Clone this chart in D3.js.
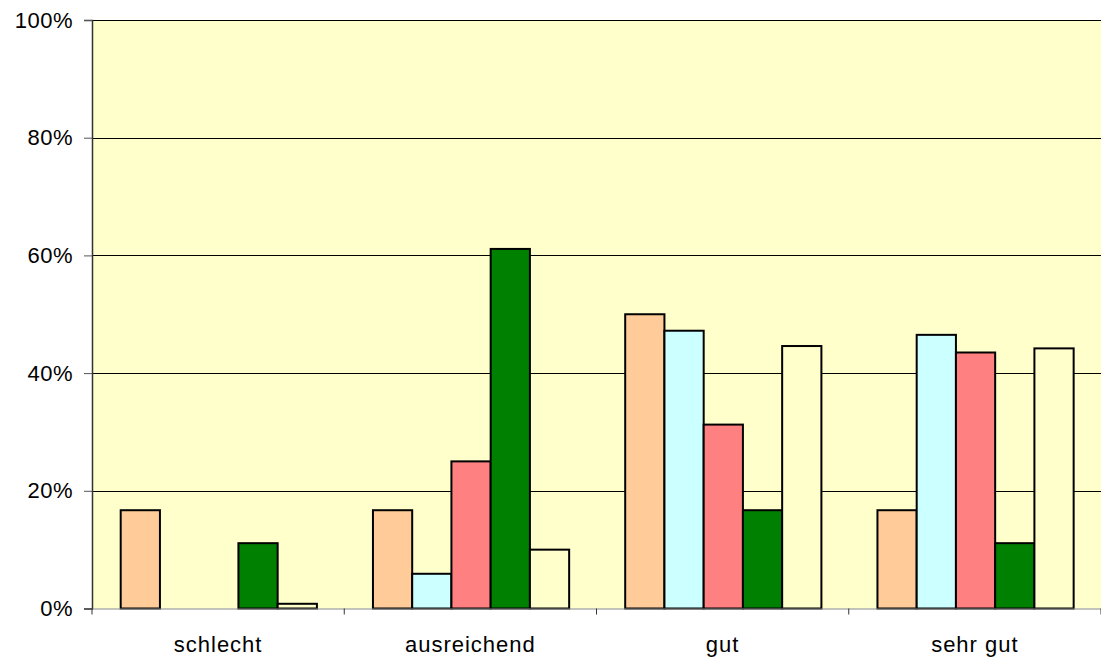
<!DOCTYPE html>
<html><head><meta charset="utf-8">
<script src="https://cdn.jsdelivr.net/npm/d3@7"></script>
<style>body{margin:0;background:#fff}svg{display:block}</style>
</head><body>
<script>
const categories = ["schlecht", "ausreichend", "gut", "sehr gut"];
const seriesNames = ["S1", "S2", "S3", "S4", "S5"];
const s1 = [16.7, 16.7, 50.0, 16.7];
const s2 = [0, 5.9, 47.2, 46.5];
const s3 = [0, 25.0, 31.25, 43.5];
const s4 = [11.1, 61.1, 16.7, 11.1];
const s5 = [0.8, 10.0, 44.6, 44.2];
const yTicks = [0, 20, 40, 60, 80, 100];
const colors = ["#FFCC99", "#CCFFFF", "#FF8080", "#008000", "#FFFFCC"];
const allSeries = [s1, s2, s3, s4, s5];

const W = 1101, H = 657;
const L = 92, R = 1101, T = 20, B = 608.5;
const FONT = "Liberation Sans, Arial, Helvetica, sans-serif";
const svg = d3.select("body").append("svg").attr("width", W).attr("height", H);
const x0 = d3.scaleBand().domain(categories).range([L, R]).padding(0);
const x1 = d3.scaleBand().domain(seriesNames).range([28.7, 224.9]).padding(0);
const y = d3.scaleLinear().domain([0, 100]).range([B, T]);

svg.append("rect").attr("x", L).attr("y", T).attr("width", R - L).attr("height", B - T).attr("fill", "#FFFFCC");

// gridlines
svg.append("g").selectAll("line").data(yTicks.filter(d => d > 0)).join("line")
  .attr("x1", L).attr("x2", R).attr("y1", d => Math.round(y(d)) + 0.5).attr("y2", d => Math.round(y(d)) + 0.5)
  .attr("stroke", "#000").attr("stroke-width", 1);

// bars
const groups = svg.append("g").selectAll("g").data(categories).join("g")
  .attr("transform", d => `translate(${x0(d)},0)`);
groups.selectAll("rect").data((c, i) => seriesNames.map((s, k) => ({s, k, v: allSeries[k][i]})).filter(d => d.v > 0)).join("rect")
  .attr("x", d => x1(d.s)).attr("width", x1.bandwidth())
  .attr("y", d => y(d.v)).attr("height", d => y(0) - y(d.v))
  .attr("fill", d => colors[d.k]).attr("stroke", "#000").attr("stroke-width", 2);

// y axis
const ya = d3.axisLeft(y).tickValues(yTicks).tickFormat(d => d + "%").tickSize(8).tickPadding(11);
const gy = svg.append("g").attr("transform", `translate(${L},0)`).call(ya);
gy.select(".domain").attr("stroke", "#333").attr("stroke-width", 1.5);
gy.selectAll(".tick line").attr("stroke", "#555");
gy.selectAll("text").attr("font-family", FONT).attr("font-size", 22).attr("letter-spacing", 0.5).attr("fill", "#000");

// x axis
const xa = d3.axisBottom(x0).tickSize(0).tickPadding(28);
const gx = svg.append("g").attr("transform", `translate(0,${B})`).call(xa);
gx.select(".domain").attr("stroke", "#888").attr("stroke-width", 1.2);
gx.selectAll("text").attr("font-family", FONT).attr("font-size", 22).attr("letter-spacing", 1).attr("fill", "#000");
// category separator ticks
svg.append("g").selectAll("line").data(categories.map(c => x0(c)).concat([R])).join("line")
  .attr("x1", d => d).attr("x2", d => d).attr("y1", B).attr("y2", B + 6)
  .attr("stroke", "#333").attr("stroke-width", 1);
</script>
</body></html>
